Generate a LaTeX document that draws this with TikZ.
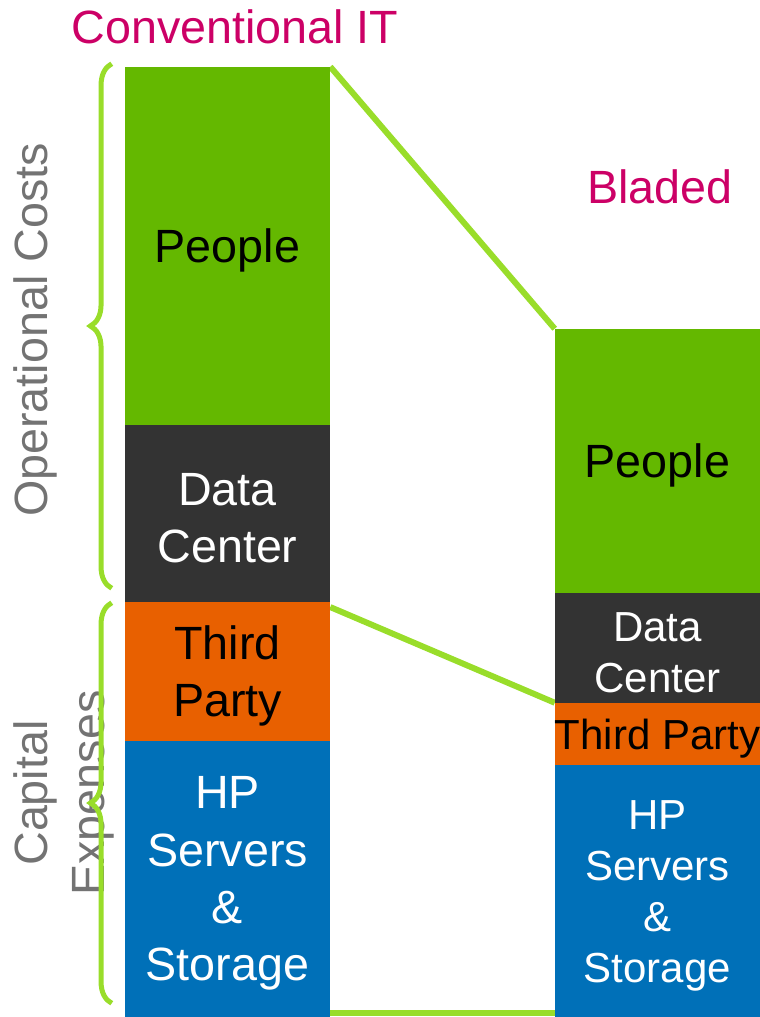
\documentclass[tikz,border=0pt]{standalone}
\usepackage{fontspec}
\setmainfont{Liberation Sans}
\usetikzlibrary{positioning}
\usetikzlibrary{decorations.pathreplacing}
\usetikzlibrary{backgrounds}
\definecolor{peoplegreen}{HTML}{64B800}
\definecolor{dcgray}{HTML}{333333}
\definecolor{thirdorange}{HTML}{E86000}
\definecolor{hpblue}{HTML}{0070B8}
\definecolor{limeline}{HTML}{99DD2A}
\definecolor{titlepink}{HTML}{CC0066}
\definecolor{sidegray}{HTML}{737373}
\tikzstyle{bar}=[rectangle,minimum width=153.75pt,inner sep=0pt]
\tikzstyle{bartext}=[inner sep=0pt,align=center]
\tikzstyle{bigtext}=[font=\fontsize{35}{43}\selectfont]
\tikzstyle{smalltext}=[font=\fontsize{31.5}{38.25}\selectfont]
\tikzstyle{title}=[bigtext,text=titlepink,inner sep=0pt]
\tikzstyle{side}=[bigtext,text=sidegray,inner sep=0pt,rotate=90,align=center]
\tikzstyle{link}=[line width=4.5pt,limeline]
\tikzstyle{bracket}=[line width=3.75pt,limeline,decorate,decoration={brace,amplitude=16pt}]

\begin{document}
\begin{tikzpicture}[x=0.75pt,y=-0.75pt]

    \useasboundingbox (0,0) rectangle (760,1017);

    \foreach \pos/\h/\name/\col/\fg/\sty/\txt in {{(227.5,246)/268.5pt/lpeople/peoplegreen/black/bigtext/People}, {(227.5,513.5)/132.75pt/ldata/dcgray/white/bigtext/Data\\Center}, {(227.5,671.5)/104.25pt/lthird/thirdorange/black/bigtext/Third\\Party}, {(227.5,879)/207pt/lhp/hpblue/white/bigtext/HP\\Servers\\\&\\Storage}, {(657.5,461)/198pt/rpeople/peoplegreen/black/bigtext/People}, {(657.5,648)/82.5pt/rdata/dcgray/white/smalltext/Data\\Center}, {(657.5,734)/46.5pt/rthird/thirdorange/black/smalltext/Third Party}, {(657.5,891)/189pt/rhp/hpblue/white/smalltext/HP\\Servers\\\&\\Storage}}
    {
        \node[bar,fill=\col,minimum height=\h] (\name) at \pos {};
        \node[bartext,\sty,text=\fg] (\name-txt) at ([yshift=-3.5pt]\name.center) {\txt};
    }

%links between the bars
    \begin{pgfonlayer}{background}
        \draw[link] (lpeople.north east) -- (rpeople.north west);
        \draw[link] ([yshift=-4pt]lthird.north east) -- (rthird.north west);
        \draw[link] ([yshift=3pt]lhp.south east) -- ([yshift=3pt]rhp.south west);
    \end{pgfonlayer}

    \node[title] (conv) at (235,27) {Conventional IT};
    \node[title] (bladed) at (660,187) {Bladed};
    \node[side] (opcost) at (35,330) {Operational Costs};
    \node[side] (capex) at (64,793) {Capital\\Expenses};

    \draw[bracket] ([xshift=-9.75pt,yshift=10.5pt]ldata.south west) -- ([xshift=-9.75pt,yshift=2.25pt]lpeople.north west);
    \draw[bracket] ([xshift=-9.75pt,yshift=10.5pt]lhp.south west) -- ([xshift=-9.75pt,yshift=-0.75pt]lthird.north west);

\end{tikzpicture}
\end{document}
